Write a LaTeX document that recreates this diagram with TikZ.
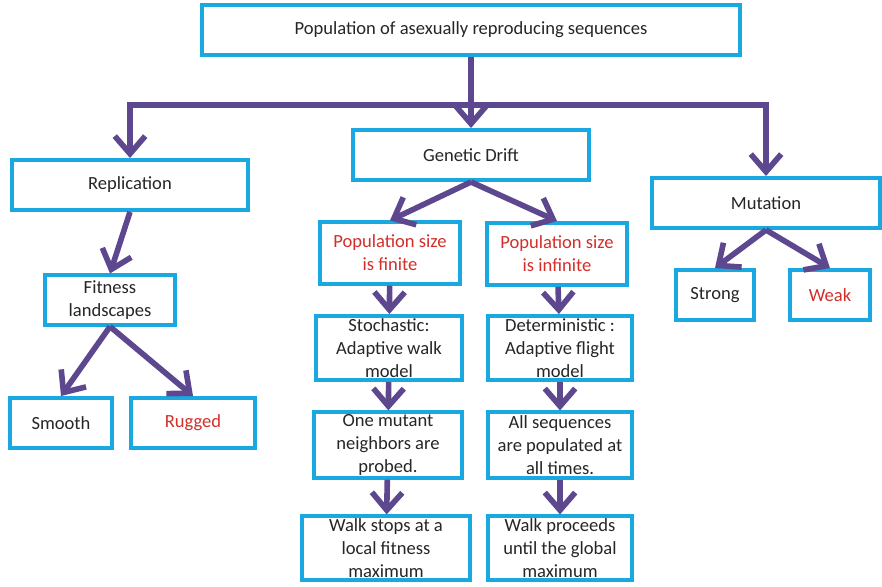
\documentclass[tikz,border=0pt]{standalone}
\usepackage{fontspec}
\setmainfont{Carlito}
\usetikzlibrary{arrows.meta}
\definecolor{boxblue}{HTML}{1AA8E0}
\definecolor{arrowpurple}{HTML}{5D4890}
\definecolor{textred}{HTML}{D22F2B}
\begin{document}
\begin{tikzpicture}[x=0.025cm, y=-0.025cm,
        box/.style={draw=boxblue, line width=2.8pt, fill=white, inner sep=0pt, align=center,
            font=\fontsize{13.2}{16.3}\selectfont, text=black!85},
        hot/.style={text=textred},
        arr/.style={draw=arrowpurple, line width=4pt, -{Straight Barb[length=4.4mm,width=7.6mm]}},
        link/.style={draw=arrowpurple, line width=4pt}]
                \useasboundingbox (0,0) rectangle (882,586);
                \node[box, minimum width=13.43cm, minimum height=1.23cm] (pop) at (471,30) {Population of asexually reproducing sequences};
                \coordinate (split) at (471,105);
                \node[box, minimum width=5.9cm, minimum height=1.25cm] (repl) at (130,185) {Replication};
                \node[box, minimum width=5.88cm, minimum height=1.25cm] (drift) at (471,155) {Genetic Drift};
                \node[box, minimum width=5.7cm, minimum height=1.25cm] (mut) at (766,203) {Mutation};
                \node[box, minimum width=3.23cm, minimum height=1.23cm] (fit) at (110,300) {Fitness\\landscapes};
                \node[box, minimum width=2.55cm, minimum height=1.25cm] (smooth) at (61,423) {Smooth};
                \node[box, hot, minimum width=3.08cm, minimum height=1.25cm] (rugged) at (193,423) {Rugged};
                \node[box, hot, minimum width=3.5cm, minimum height=1.53cm] (finite) at (390,253) {Population size\\is finite};
                \node[box, hot, minimum width=3.5cm, minimum height=1.55cm] (infinite) at (557,254) {Population size\\is infinite};
                \node[box, minimum width=3.65cm, minimum height=1.6cm] (stoch) at (389,348) {Stochastic:\\Adaptive walk\\model};
                \node[box, minimum width=3.6cm, minimum height=1.6cm] (determ) at (560,348) {Deterministic :\\Adaptive flight\\model};
                \node[box, minimum width=3.68cm, minimum height=1.63cm] (onemut) at (388,445) {One mutant\\neighbors are\\probed.};
                \node[box, minimum width=3.6cm, minimum height=1.63cm] (allseq) at (560,445) {All sequences\\are populated at\\all times.};
                \node[box, minimum width=4.2cm, minimum height=1.58cm] (stops) at (386,548) {Walk stops at a\\local fitness\\maximum};
                \node[box, minimum width=3.6cm, minimum height=1.58cm] (proceeds) at (560,548) {Walk proceeds\\until the global\\maximum};
                \node[box, minimum width=1.95cm, minimum height=1.25cm] (strong) at (715,295) {Strong};
                \node[box, hot, minimum width=1.98cm, minimum height=1.25cm] (weak) at (830,295) {Weak};
                % main split
                \draw[link] (pop) -- (split);
                \draw[arr] (split) -| (repl);
                \draw[arr] (split) -- (drift);
                \draw[arr] (split) -| (mut);
                % replication branch
                \draw[arr] (repl.south) -- (fit.north);
                \draw[arr] (fit.south) -- (smooth.north);
                \draw[arr] (fit.south) -- (rugged.north);
                % drift branch
                \draw[arr] (drift.south) -- (finite.north);
                \draw[arr] (drift.south) -- (infinite.north);
                \draw[arr] (finite) -- (stoch);
                \draw[arr] (stoch) -- (onemut);
                \draw[arr] (onemut) -- (stops);
                \draw[arr] (infinite) -- (determ);
                \draw[arr] (determ) -- (allseq);
                \draw[arr] (allseq) -- (proceeds);
                % mutation branch
                \draw[arr] (mut.south) -- (strong.north);
                \draw[arr] (mut.south) -- (weak.north);
\end{tikzpicture}
\end{document}
